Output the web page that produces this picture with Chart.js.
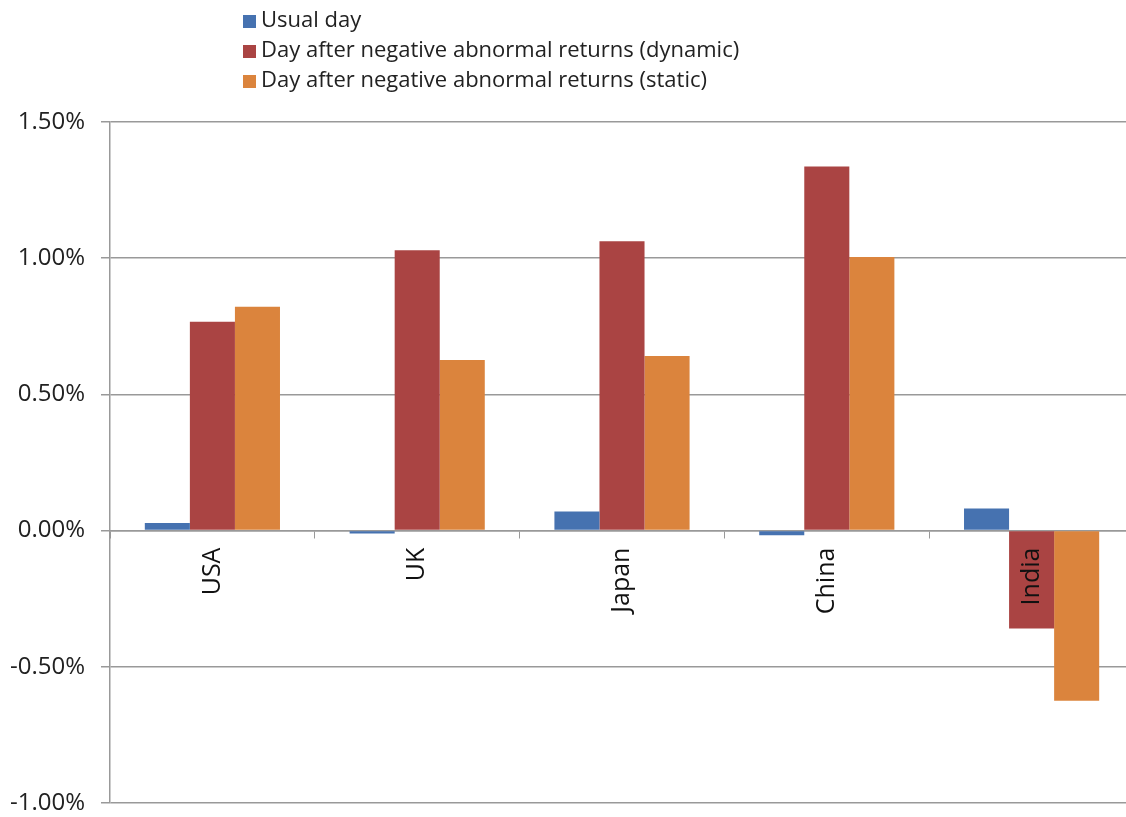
<!DOCTYPE html>
<html>
<head>
<meta charset="utf-8">
<script src="https://cdn.jsdelivr.net/npm/chart.js@4"></script>
<style>
  html, body { margin: 0; padding: 0; background: #fff; overflow: hidden; }
  #wrap { position: relative; width: 1126px; height: 817px; overflow: hidden; }
  #legend { position: absolute; left: 243px; top: 3px; font-family: "Open Sans", sans-serif; font-size: 22px; color: #222; }
  #legend div { height: 30px; line-height: 30px; white-space: nowrap; }
  #legend span.box { display: inline-block; width: 13px; height: 13px; margin-right: 5px; vertical-align: -1px; }
</style>
</head>
<body>
<div id="wrap">
  <!-- canvas is a bit wider than the page: the original plot is cropped on the right -->
  <canvas id="chart" width="1134" height="817"></canvas>
  <div id="legend"></div>
</div>
<script>
const countries = ['USA', 'UK', 'Japan', 'China', 'India']
const seriesNames = [
  'Usual day',
  'Day after negative abnormal returns (dynamic)',
  'Day after negative abnormal returns (static)'
]
const usualDay = [0.028, -0.011, 0.070, -0.017, 0.081]
const dynamicDay = [0.767, 1.029, 1.062, 1.337, -0.359]
const staticDay = [0.822, 0.626, 0.641, 1.004, -0.625]
const colors = ['#4672B0', '#AA4443', '#DB843D']

const datasets = [usualDay, dynamicDay, staticDay].map((vals, i) => ({
  label: seriesNames[i],
  data: vals,
  backgroundColor: colors[i],
  borderWidth: 0,
  categoryPercentage: 0.66,
  barPercentage: 1
}))

// simple legend stacked like the original
const legendEl = document.getElementById('legend')
datasets.forEach(ds => {
  const row = document.createElement('div')
  row.innerHTML = '<span class="box" style="background:' + ds.backgroundColor + '"></span>' + ds.label
  legendEl.appendChild(row)
})

const ctx = document.getElementById('chart').getContext('2d')
const chart = new Chart(ctx, {
  type: 'bar',
  data: { labels: countries, datasets: datasets },
  options: {
    responsive: false,
    animation: false,
    layout: { padding: { top: 122, bottom: 14, left: 0, right: 0 } },
    plugins: {
      legend: { display: false },
      tooltip: { enabled: false }
    },
    scales: {
      x: {
        position: { y: 0 },
        grid: {
          offset: true,
          drawOnChartArea: false,
          drawTicks: true,
          tickLength: 7,
          color: '#999'
        },
        border: { color: '#999', width: 1.5 },
        ticks: {
          z: 1,  // labels over the bars (India)
          autoSkip: false,
          minRotation: 90,
          maxRotation: 90,
          padding: 10,
          color: '#111',
          font: { family: 'Open Sans', size: 25 }
        }
      },
      y: {
        min: -1,
        max: 1.5,
        afterFit: (scale) => {
          scale.width = 110
          scale.paddingTop = 0
          scale.paddingBottom = 0
        },
        grid: { color: '#999', lineWidth: 1.5, tickLength: 9 },
        border: { color: '#999', width: 1.5 },
        ticks: {
          stepSize: 0.5,
          padding: 16,
          color: '#222',
          font: { family: 'Open Sans', size: 24 },
          callback: (v) => v.toFixed(2) + '%'
        }
      }
    }
  }
})
</script>
</body>
</html>
